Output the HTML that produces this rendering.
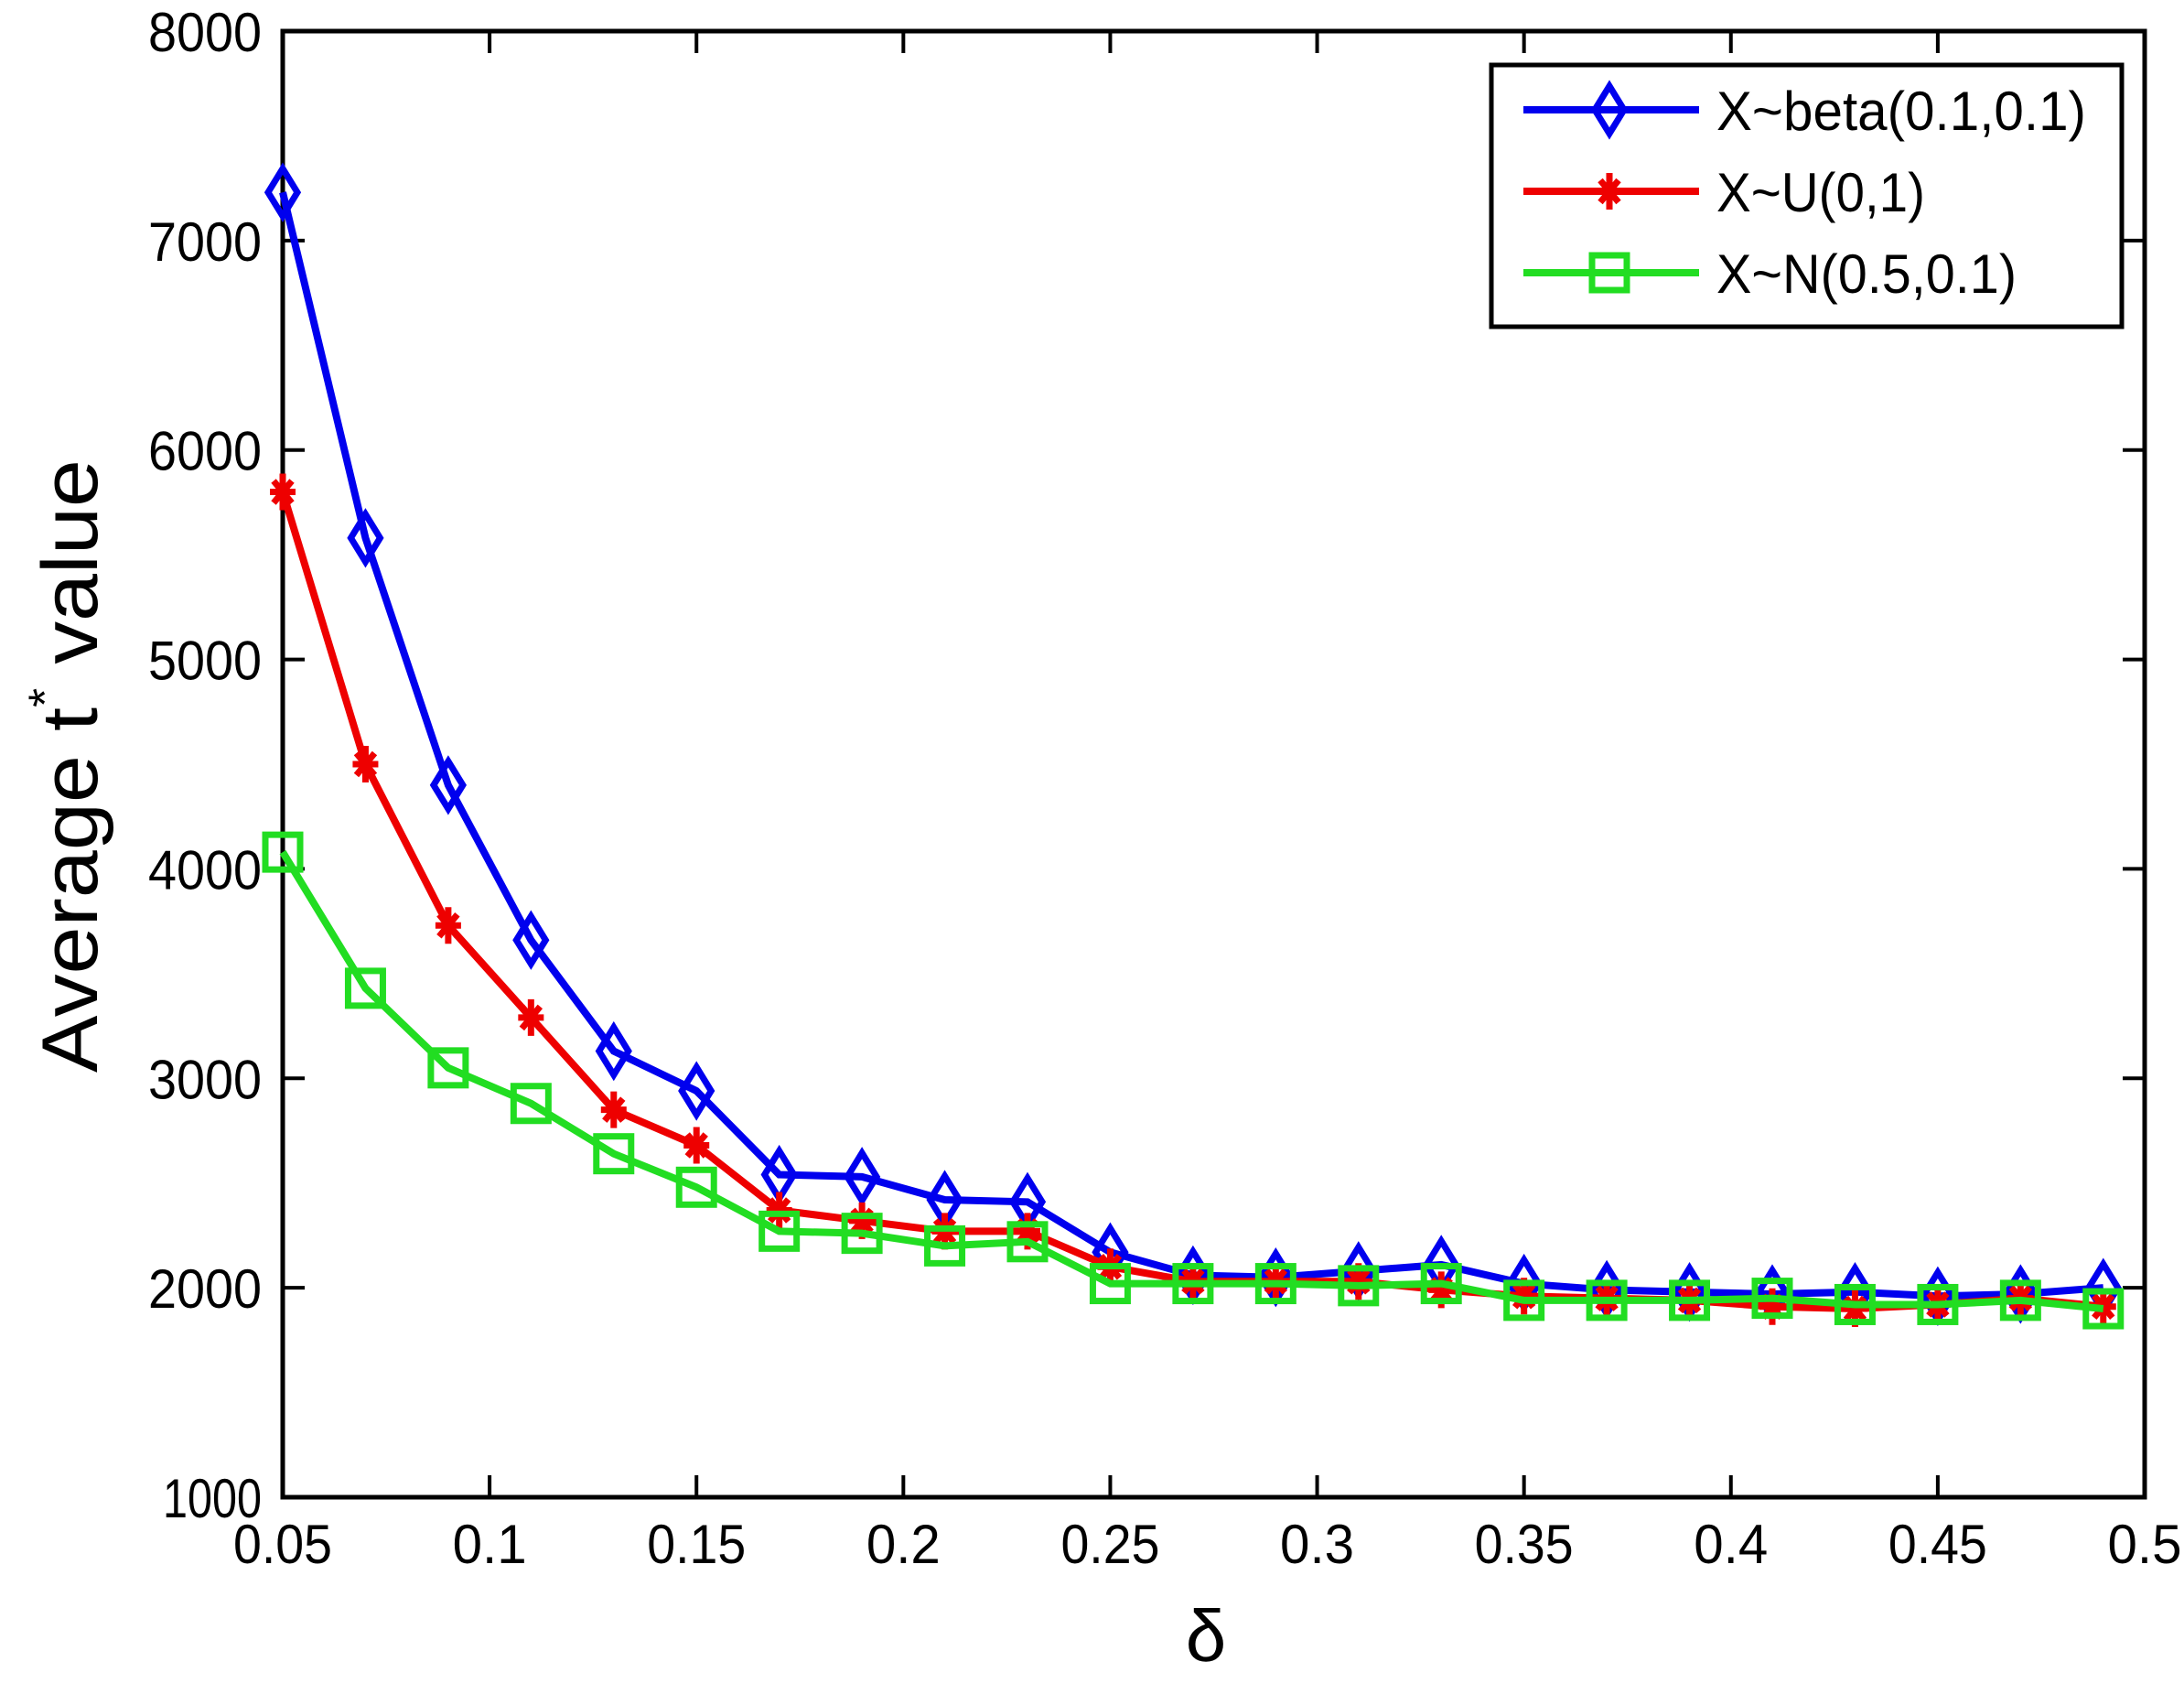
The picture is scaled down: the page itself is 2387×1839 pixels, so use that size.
<!DOCTYPE html>
<html><head><meta charset="utf-8"><style>
html,body{margin:0;padding:0;background:#fff;}
svg{display:block;}
text{font-family:"Liberation Sans",sans-serif;fill:#000;}
</style></head><body>
<svg id="s" width="2387" height="1839" viewBox="0 0 2387 1839" xmlns="http://www.w3.org/2000/svg">
<rect width="2387" height="1839" fill="#fff"/>
<g id="g"></g>
</svg>
<script>
const L=309,R=2344,T=34,B=1636;
const X=v=>L+(v-0.05)/0.45*(R-L);
const Y=v=>B-(v-1000)/7000*(B-T);
let h='';
const xt=[0.05,0.1,0.15,0.2,0.25,0.3,0.35,0.4,0.45,0.5];
xt.forEach(v=>{const x=X(v);h+=`<line x1="${x}" y1="${B}" x2="${x}" y2="${B-24}" stroke="#000" stroke-width="4"/><line x1="${x}" y1="${T}" x2="${x}" y2="${T+24}" stroke="#000" stroke-width="4"/>`;
h+=`<text x="${x}" y="${1708}" font-size="60" text-anchor="middle" textLength="${String(v).length*27}" lengthAdjust="spacingAndGlyphs">${v}</text>`;});
for(let v=1000;v<=8000;v+=1000){const y=Y(v);h+=`<line x1="${L}" y1="${y}" x2="${L+24}" y2="${y}" stroke="#000" stroke-width="4"/><line x1="${R}" y1="${y}" x2="${R-24}" y2="${y}" stroke="#000" stroke-width="4"/>`;
h+=`<text x="286" y="${y+22}" font-size="60" text-anchor="end" textLength="${v==1000?108:124}" lengthAdjust="spacingAndGlyphs">${v}</text>`;}
h+=`<rect x="${L}" y="${T}" width="${R-L}" height="${B-T}" fill="none" stroke="#000" stroke-width="5"/>`;
const xs=[];for(let i=0;i<23;i++)xs.push(0.05+0.02*i);
const S=[
{c:'#0000ee',d:[7230,5580,4400,3660,3130,2940,2540,2530,2420,2410,2170,2060,2050,2080,2110,2020,1990,1980,1970,1980,1960,1970,2000],m:'d'},
{c:'#ee0000',d:[5800,4500,3730,3290,2850,2680,2370,2320,2270,2270,2100,2030,2030,2030,1990,1960,1950,1940,1910,1900,1920,1950,1910],m:'s'},
{c:'#22dd22',d:[4080,3430,3050,2880,2640,2480,2270,2260,2200,2220,2020,2020,2020,2010,2020,1940,1940,1940,1950,1920,1920,1940,1900],m:'q'}];
function mk(m,x,y,c){
 if(m=='d')return `<polygon points="${x},${y-26} ${x+16},${y} ${x},${y+26} ${x-16},${y}" fill="none" stroke="${c}" stroke-width="7"/>`;
 if(m=='s')return `<g stroke="${c}" stroke-width="7"><line x1="${x}" y1="${y-20}" x2="${x}" y2="${y+20}"/><line x1="${x-14}" y1="${y}" x2="${x+14}" y2="${y}"/><line x1="${x-10}" y1="${y-12}" x2="${x+10}" y2="${y+12}"/><line x1="${x-10}" y1="${y+12}" x2="${x+10}" y2="${y-12}"/></g>`;
 return `<rect x="${x-19}" y="${y-19}" width="38" height="38" fill="none" stroke="${c}" stroke-width="7"/>`;
}
S.forEach(s=>{h+=`<polyline points="${s.d.map((v,i)=>X(xs[i])+','+Y(v)).join(' ')}" fill="none" stroke="${s.c}" stroke-width="8"/>`;
 s.d.forEach((v,i)=>h+=mk(s.m,X(xs[i]),Y(v),s.c));});
h+=`<rect x="1630" y="71" width="689" height="286" fill="#fff" stroke="#000" stroke-width="5"/>`;
const lab=['X~beta(0.1,0.1)','X~U(0,1)','X~N(0.5,0.1)'],ly=[120,209,298],lw=[404,228,328];
S.forEach((s,i)=>{h+=`<line x1="1665" y1="${ly[i]}" x2="1857" y2="${ly[i]}" stroke="${s.c}" stroke-width="8"/>`+mk(s.m,1759,ly[i],s.c);
 h+=`<text x="1876" y="${ly[i]+22}" font-size="60" textLength="${lw[i]}" lengthAdjust="spacingAndGlyphs">${lab[i]}</text>`;});
h+=`<text transform="translate(106,837) rotate(-90)" font-size="86" text-anchor="middle" textLength="670" lengthAdjust="spacingAndGlyphs">Average t<tspan dy="-40" font-size="50">*</tspan><tspan dy="40"> value</tspan></text>`;
h+=`<text x="1318" y="1815" font-size="80" text-anchor="middle" font-family="Liberation Serif,serif">δ</text>`;
document.getElementById('g').innerHTML=h;
</script>
</body></html>
